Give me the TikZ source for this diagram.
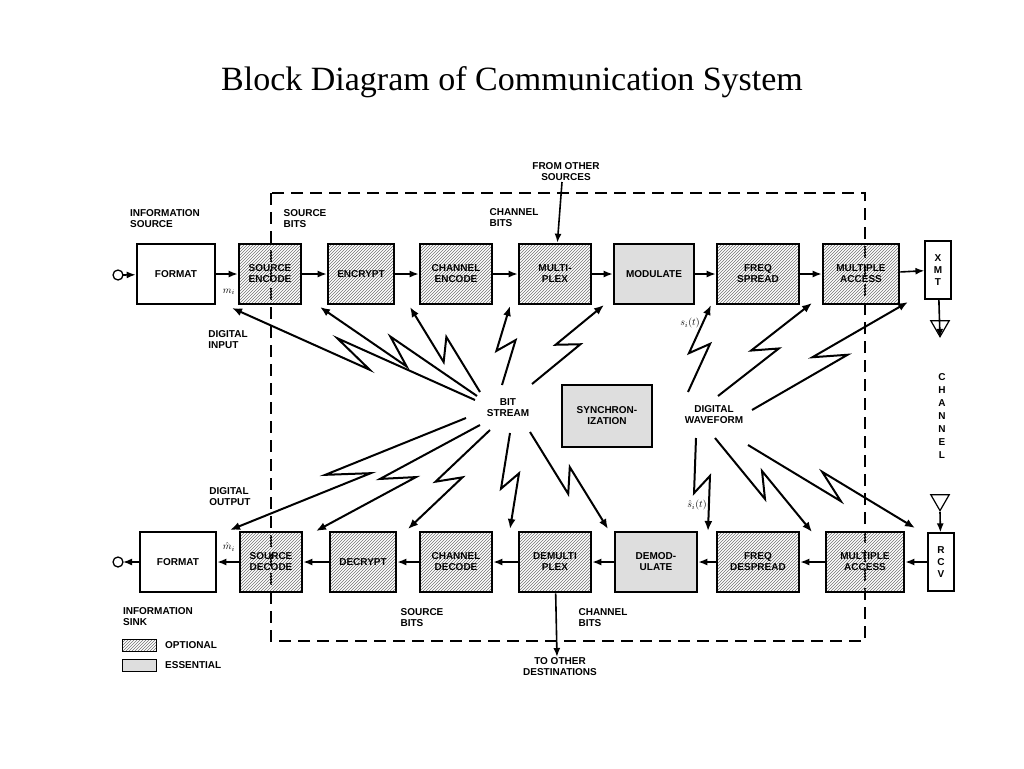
\documentclass[tikz,border=0pt]{standalone}
\usepackage{fontspec}
\setmainfont{Liberation Sans}
\newfontfamily\titlefont{Liberation Serif}
\usetikzlibrary{arrows.meta,calc,patterns,shapes.geometric}

\tikzset{
  blk/.style={draw,line width=2.6pt,minimum width=#1,minimum height=60pt,
    align=center,inner sep=1pt,font=\fontsize{10}{11}\selectfont\bfseries},
  blk/.default=70pt,
  opt/.style={pattern=north east lines,pattern color=black!55},
  ess/.style={fill=black!13},
  lbl/.style={align=left,font=\fontsize{10}{11}\selectfont\bfseries,inner sep=0pt},
  sig/.style={line width=1.6pt,-{Latex[length=9pt,width=7pt]}},
  bolt/.style={line width=2pt,-{Latex[length=10pt,width=8pt]}},
}
\newcommand{\bolt}[2]{\draw[bolt] (#1) -- ($(#1)!0.58!(#2)!9pt!-90:(#2)$) -- ($(#1)!0.42!(#2)!9pt!90:(#2)$) -- (#2);}

\begin{document}
\begin{tikzpicture}[x=1pt,y=-1pt]
\useasboundingbox (0,0) rectangle (1024,768);
\node[font=\titlefont\fontsize{34}{40}\selectfont] (title) at (512,82) {Block Diagram of Communication System};

% dashed region
\draw[line width=1.3pt,dash pattern=on 12pt off 7pt] (271,193) rectangle (865,641);

% transmit chain
\node[blk=78pt] (fmtT) at (176,274) {FORMAT};
\node[blk=62pt,opt] (srcenc) at (270,274) {SOURCE\\ENCODE};
\node[blk=66pt,opt] (encr) at (361,274) {ENCRYPT};
\node[blk=72pt,opt] (chenc) at (456,274) {CHANNEL\\ENCODE};
\node[blk=72pt,opt] (mux) at (555,274) {MULTI-\\PLEX};
\node[blk=80pt,ess] (mod) at (654,274) {MODULATE};
\node[blk=82pt,opt] (spread) at (758,274) {FREQ\\SPREAD};
\node[blk=76pt,opt] (maT) at (861,274) {MULTIPLE\\ACCESS};
\node[draw,line width=1.2pt,minimum width=26pt,minimum height=58pt,align=center,
  font=\fontsize{10}{12}\selectfont\bfseries] (xmt) at (938,270) {X\\M\\T};

% receive chain
\node[blk=76pt] (fmtR) at (178,562) {FORMAT};
\node[blk=62pt,opt] (srcdec) at (271,562) {SOURCE\\DECODE};
\node[blk=66pt,opt] (decr) at (363,562) {DECRYPT};
\node[blk=72pt,opt] (chdec) at (456,562) {CHANNEL\\DECODE};
\node[blk=72pt,opt] (demux) at (555,562) {DEMULTI\\PLEX};
\node[blk=82pt,ess] (demod) at (656,562) {DEMOD-\\ULATE};
\node[blk=82pt,opt] (despread) at (758,562) {FREQ\\DESPREAD};
\node[blk=78pt,opt] (maR) at (865,562) {MULTIPLE\\ACCESS};
\node[draw,line width=1.2pt,minimum width=26pt,minimum height=58pt,align=center,
  font=\fontsize{10}{12}\selectfont\bfseries] (rcv) at (941,562) {R\\C\\V};

\node[blk=90pt,ess,minimum height=62pt] (sync) at (607,416) {SYNCHRON-\\IZATION};

% chain connections
\draw[line width=1.3pt] (118,275) circle (5pt) coordinate (inT);
\coordinate (inC) at (123,275);
\draw[sig] (inC) -- (fmtT);
\foreach \a/\b in {fmtT/srcenc,srcenc/encr,encr/chenc,chenc/mux,mux/mod,mod/spread,spread/maT,maT/xmt}
  \draw[sig] (\a) -- (\b);
\draw[line width=1.3pt] (118,562) circle (5pt);
\coordinate (outC) at (123,562);
\draw[sig] (fmtR) -- (outC);
\foreach \a/\b in {rcv/maR,maR/despread,despread/demod,demod/demux,demux/chdec,chdec/decr,decr/srcdec,srcdec/fmtR}
  \draw[sig] (\a) -- (\b);

% antennas
\node[draw,line width=1.2pt,isosceles triangle,shape border rotate=-90,isosceles triangle apex angle=60,
  minimum size=16pt,inner sep=0pt] (antT) at (940,326) {};
\node[draw,line width=1.2pt,isosceles triangle,shape border rotate=-90,isosceles triangle apex angle=60,
  minimum size=16pt,inner sep=0pt] (antR) at (940,500) {};
\draw[sig] (xmt) -- (antT.apex);
\draw[sig] (antR.apex) -- (rcv);
\node[font=\fontsize{10}{13}\selectfont\bfseries,align=center] (chan) at (942,416) {C\\H\\A\\N\\N\\E\\L};

% external sources and sinks
\node[lbl,align=center] (fromo) at (566,172) {FROM OTHER\\SOURCES};
\coordinate (fromp) at (562,182);
\draw[sig] (fromp) -- (mux);
\node[lbl,align=center] (too) at (560,667) {TO OTHER\\DESTINATIONS};
\coordinate (top) at (557,657);
\draw[sig] (demux) -- (top);

% labels
\node[lbl] (infsrc) at (165,219) {INFORMATION\\SOURCE};
\node[lbl] (srcbitsT) at (305,219) {SOURCE\\BITS};
\node[lbl] (chbitsT) at (514,218) {CHANNEL\\BITS};
\node[lbl] (mi) at (229,292) {$m_i$};
\node[lbl] (diginp) at (228,340) {DIGITAL\\INPUT};
\node[lbl] (digout) at (230,497) {DIGITAL\\OUTPUT};
\node[lbl] (mhat) at (229,547) {$\hat{m}_i$};
\node[lbl] (infsink) at (158,617) {INFORMATION\\SINK};
\node[lbl] (srcbitsB) at (422,618) {SOURCE\\BITS};
\node[lbl] (chbitsB) at (603,618) {CHANNEL\\BITS};
\node[lbl,align=center] (bits) at (508,408) {BIT\\STREAM};
\node[lbl,align=center] (wave) at (714,415) {DIGITAL\\WAVEFORM};
\node[lbl] (si) at (690,323) {$s_i(t)$};
\node[lbl] (sihat) at (697,505) {$\hat{s}_i(t)$};

% legend
\node[draw,line width=1pt,opt,minimum width=34pt,minimum height=12pt,inner sep=0pt] (legopt) at (139,645) {};
\node[draw,line width=1pt,ess,minimum width=34pt,minimum height=12pt,inner sep=0pt] (legess) at (139,665) {};
\node[lbl,anchor=west] (optxt) at (165,645) {OPTIONAL};
\node[lbl,anchor=west] (esstxt) at (165,665) {ESSENTIAL};

% bit stream links
\coordinate (b1) at (475,400); \coordinate (t1) at (232,308);
\coordinate (b2) at (477,396); \coordinate (t2) at (320,307);
\coordinate (b3) at (480,392); \coordinate (t3) at (410,307);
\coordinate (b4) at (502,385); \coordinate (t4) at (510,306);
\coordinate (b5) at (532,384); \coordinate (t5) at (604,305);
\coordinate (b6) at (466,418); \coordinate (t6) at (230,530);
\coordinate (b7) at (480,425); \coordinate (t7) at (316,531);
\coordinate (b8) at (490,430); \coordinate (t8) at (408,529);
\coordinate (b9) at (510,433); \coordinate (t9) at (510,529);
\coordinate (b10) at (530,432); \coordinate (t10) at (608,529);
\foreach \i in {1,...,10} {\bolt{b\i}{t\i}}

% waveform links
\coordinate (w1) at (688,392); \coordinate (u1) at (711,305);
\coordinate (w2) at (718,396); \coordinate (u2) at (812,303);
\coordinate (w3) at (752,410); \coordinate (u3) at (908,302);
\coordinate (w4) at (696,438); \coordinate (u4) at (708,531);
\coordinate (w5) at (715,438); \coordinate (u5) at (812,532);
\coordinate (w6) at (748,445); \coordinate (u6) at (915,528);
\foreach \i in {1,...,6} {\bolt{w\i}{u\i}}
\end{tikzpicture}
\end{document}
